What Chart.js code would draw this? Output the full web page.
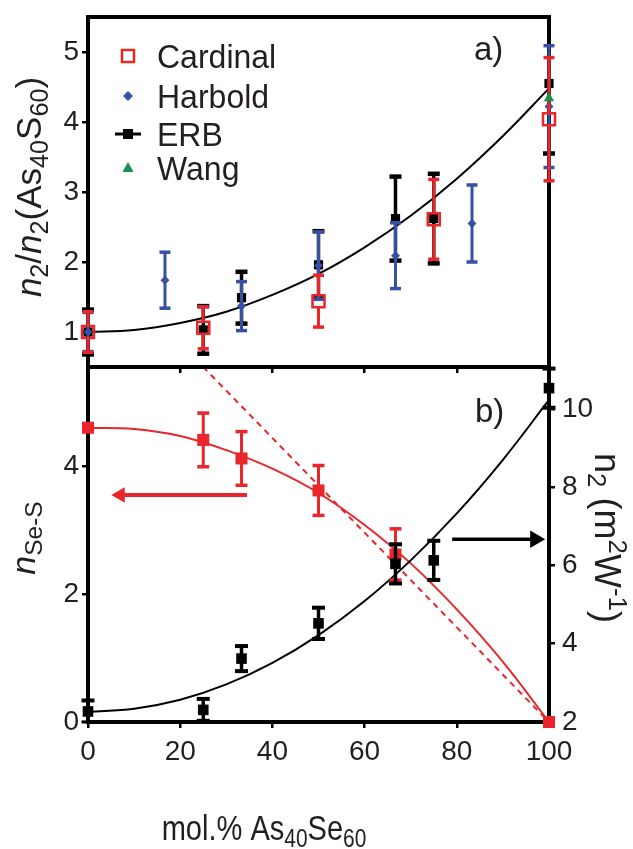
<!DOCTYPE html>
<html>
<head>
<meta charset="utf-8">
<script src="https://cdn.jsdelivr.net/npm/chart.js@4.4.1/dist/chart.umd.min.js"></script>
<style>
  html, body { margin: 0; padding: 0; background: #fff; }
  #wrap { position: relative; width: 633px; height: 849px; }
  #wrap canvas { position: absolute; left: 0; top: 0; }
</style>
</head>
<body>
<div id="wrap">
  <canvas id="chartB" width="633" height="849"></canvas>
  <canvas id="chartA" width="633" height="849"></canvas>
</div>
<script>
// ---- tick values ----
const xTicks = [0, 20, 40, 60, 80, 100];
const yATicks = [1, 2, 3, 4, 5];
const yLeftTicks = [0, 2, 4];
const yRightTicks = [2, 4, 6, 8, 10];

// ---- panel a) n2 / n2(As40S60) ----
const cardinalX = [0, 25, 50, 75, 100];
const cardinalY = [1.00, 1.06, 1.44, 2.61, 4.04];
const cardinalErr = [0.29, 0.30, 0.37, 0.57, 0.88];

const harboldX = [0, 16.7, 33.3, 50, 66.7, 83.3, 100];
const harboldY = [1.00, 1.74, 1.37, 1.95, 2.09, 2.55, 4.22];
const harboldErr = [0.28, 0.40, 0.35, 0.48, 0.47, 0.55, 0.87];

const erbX = [0, 25, 33.3, 50, 66.7, 75, 100];
const erbY = [1.00, 1.03, 1.49, 1.96, 2.62, 2.62, 4.55];
const erbErr = [0.32, 0.34, 0.37, 0.48, 0.60, 0.64, 1.00];

const wangX = [100];
const wangY = [4.34];

const fitX = [0, 10, 20, 30, 40, 50, 60, 70, 80, 90, 100];
const fitAY = [1.00, 1.03, 1.13, 1.29, 1.53, 1.83, 2.21, 2.66, 3.19, 3.80, 4.48];

// ---- panel b) n_Se-S (left) and n2 (right) ----
const nSeSX = [0, 25, 33.3, 50, 66.7, 100];
const nSeSY = [4.60, 4.41, 4.12, 3.62, 2.62, 0.00];
const nSeSErr = [0, 0.42, 0.42, 0.39, 0.40, 0];
const fitSeSY = [4.60, 4.58, 4.47, 4.25, 3.96, 3.58, 3.08, 2.48, 1.76, 0.94, 0.00];
const randomX = [0, 100];
const randomY = [7.40, 0.00];

const n2X = [0, 25, 33.3, 50, 66.7, 75, 100];
const n2Y = [2.27, 2.31, 3.62, 4.52, 6.04, 6.13, 10.53];
const n2Err = [0.28, 0.28, 0.32, 0.40, 0.50, 0.50, 0.50];
const fitN2Y = [2.26, 2.34, 2.57, 2.96, 3.51, 4.22, 5.09, 6.13, 7.33, 8.70, 10.23];

// arrows telling which axis a curve belongs to
const arrowLeftX = [34.5, 7.0];
const arrowLeftY = [3.55, 3.55];
const arrowRightX = [79, 97];
const arrowRightY = [6.67, 6.67];

const FONT = "'Liberation Sans', Arial, Helvetica, sans-serif";
const INK = '#231f20';
const RED = '#e8262b';
const BLUE = '#3651a3';
const GREEN = '#16924a';

function pts(xs, ys) {
  return xs.map((x, i) => ({ x: x, y: ys[i] }));
}

function fixedTicks(values) {
  return scale => { scale.ticks = values.map(v => ({ value: v })); };
}

const tickFont = { family: FONT, size: 28, lineHeight: 1 };

function axisGrid() {
  return { drawOnChartArea: false, drawTicks: true, tickLength: 6, lineWidth: 2.5, color: '#000' };
}

// text with italic / sub / superscript pieces, drawn from a baseline point
function richText(ctx, parts, x, y, size, angle, sx) {
  ctx.save();
  ctx.translate(x, y);
  ctx.rotate(angle || 0);
  ctx.scale(sx || 1, 1);
  ctx.fillStyle = INK;
  ctx.textBaseline = 'alphabetic';
  const fontOf = p => (p.i ? 'italic ' : '') + (p.s ? size * 0.72 : size) + 'px ' + FONT;
  let w = 0;
  parts.forEach(p => {
    ctx.font = fontOf(p);
    p.w = ctx.measureText(p.t).width;
    w += p.w;
  });
  let cx = -w / 2;
  parts.forEach(p => {
    ctx.font = fontOf(p);
    const dy = p.s === 'sub' ? size * 0.2 : p.s === 'sup' ? -size * 0.4 : 0;
    ctx.fillText(p.t, cx, dy);
    cx += p.w;
  });
  ctx.restore();
}

// thick frame round the plot area
const frame = {
  id: 'frame',
  beforeDatasetsDraw(chart) {
    const a = chart.chartArea;
    const ctx = chart.ctx;
    ctx.save();
    ctx.strokeStyle = '#000';
    ctx.lineWidth = 4;
    ctx.strokeRect(a.left, a.top, a.right - a.left, a.bottom - a.top);
    ctx.restore();
  }
};

// vertical error bars, drawn just under each dataset's markers
const errorBars = {
  id: 'errorBars',
  beforeDatasetDraw(chart, args) {
    const ds = chart.data.datasets[args.index];
    if (!ds.err) return;
    const xs = chart.scales.x;
    const ys = chart.scales[ds.yAxisID || 'y'];
    const a = chart.chartArea;
    const ctx = chart.ctx;
    const cap = ds.capWidth / 2;
    const th = ds.capThick;
    const gap = ds.errGap || 0;
    ctx.save();
    ctx.beginPath();
    ctx.rect(0, a.top - 1, chart.width, a.bottom - a.top + 2);
    ctx.clip();
    ctx.strokeStyle = ds.borderColor;
    ctx.fillStyle = ds.borderColor;
    ctx.lineWidth = ds.errWidth;
    ds.data.forEach((p, i) => {
      const e = ds.err[i];
      if (!e) return;
      const px = xs.getPixelForValue(p.x);
      const pc = ys.getPixelForValue(p.y);
      const y1 = ys.getPixelForValue(p.y + e);
      const y2 = ys.getPixelForValue(p.y - e);
      ctx.beginPath();
      ctx.moveTo(px, y1);
      ctx.lineTo(px, pc - gap);
      ctx.moveTo(px, pc + gap);
      ctx.lineTo(px, y2);
      ctx.stroke();
      ctx.fillRect(px - cap, y1 - th / 2, cap * 2, th);
      ctx.fillRect(px - cap, y2 - th / 2, cap * 2, th);
    });
    ctx.restore();
  }
};

function legendMarker(ctx, kind, x, y) {
  ctx.save();
  if (kind === 'openSquare') {
    ctx.strokeStyle = RED;
    ctx.lineWidth = 2.5;
    ctx.strokeRect(x - 6, y - 6, 12, 12);
  } else if (kind === 'diamond') {
    ctx.fillStyle = BLUE;
    ctx.beginPath();
    ctx.moveTo(x, y - 5); ctx.lineTo(x + 5, y); ctx.lineTo(x, y + 5); ctx.lineTo(x - 5, y);
    ctx.closePath();
    ctx.fill();
  } else if (kind === 'lineSquare') {
    ctx.strokeStyle = '#000';
    ctx.lineWidth = 3;
    ctx.beginPath();
    ctx.moveTo(x - 13, y); ctx.lineTo(x + 13, y);
    ctx.stroke();
    ctx.fillStyle = '#000';
    ctx.fillRect(x - 5, y - 5, 10, 10);
  } else if (kind === 'triangle') {
    ctx.fillStyle = GREEN;
    ctx.beginPath();
    ctx.moveTo(x, y - 6); ctx.lineTo(x + 5.5, y + 4); ctx.lineTo(x - 5.5, y + 4);
    ctx.closePath();
    ctx.fill();
  }
  ctx.restore();
}

const legendRows = [
  { label: 'Cardinal', kind: 'openSquare', y: 56 },
  { label: 'Harbold', kind: 'diamond', y: 96 },
  { label: 'ERB', kind: 'lineSquare', y: 134 },
  { label: 'Wang', kind: 'triangle', y: 168 }
];

const textsA = {
  id: 'textsA',
  afterDraw(chart) {
    const ctx = chart.ctx;
    legendRows.forEach(r => {
      legendMarker(ctx, r.kind, 128, r.y);
      ctx.save();
      ctx.translate(157, r.y + 12);
      ctx.scale(0.97, 1);
      ctx.font = '33px ' + FONT;
      ctx.fillStyle = INK;
      ctx.fillText(r.label, 0, 0);
      ctx.restore();
    });
    ctx.save();
    ctx.font = '33px ' + FONT;
    ctx.fillStyle = INK;
    ctx.fillText('a)', 474, 60);
    ctx.restore();
    richText(ctx, [
      { t: 'n', i: 1 }, { t: '2', s: 'sub' }, { t: '/' },
      { t: 'n', i: 1 }, { t: '2', s: 'sub' }, { t: '(As' },
      { t: '40', s: 'sub' }, { t: 'S' }, { t: '60', s: 'sub' }, { t: ')' }
    ], 41, 187, 35, -Math.PI / 2, 1);
  }
};

const textsB = {
  id: 'textsB',
  afterDraw(chart) {
    const ctx = chart.ctx;
    ctx.save();
    ctx.font = '33px ' + FONT;
    ctx.fillStyle = INK;
    ctx.fillText('b)', 475, 422);
    ctx.restore();
    richText(ctx, [
      { t: 'mol.% As' }, { t: '40', s: 'sub' }, { t: 'Se' }, { t: '60', s: 'sub' }
    ], 264, 840, 35, 0, 0.83);
    richText(ctx, [
      { t: 'n', i: 1 }, { t: 'Se-S', s: 'sub' }
    ], 35, 538, 34, -Math.PI / 2, 1);
    richText(ctx, [
      { t: 'n' }, { t: '2', s: 'sub' }, { t: ' (m' }, { t: '2', s: 'sup' },
      { t: 'W' }, { t: '-1', s: 'sup' }, { t: ')' }
    ], 595, 538, 36, Math.PI / 2, 1);
  }
};

const common = {
  responsive: false,
  animation: false,
  events: [],
  plugins: { legend: { display: false }, tooltip: { enabled: false } }
};

// ---- top panel ----
new Chart(document.getElementById('chartA'), {
  type: 'scatter',
  data: {
    datasets: [
      { label: 'Wang', data: pts(wangX, wangY), pointStyle: 'triangle', pointRadius: 6,
        backgroundColor: GREEN, borderColor: GREEN, borderWidth: 0, clip: false },
      { label: 'Cardinal', data: pts(cardinalX, cardinalY), err: cardinalErr,
        errWidth: 3, capWidth: 11, capThick: 3.5, errGap: 6,
        pointStyle: 'rect', pointRadius: 8.5, backgroundColor: 'rgba(0,0,0,0)',
        borderColor: RED, borderWidth: 2.5, clip: false },
      { label: 'Harbold', data: pts(harboldX, harboldY), err: harboldErr,
        errWidth: 3, capWidth: 11, capThick: 3.5,
        pointStyle: 'rectRot', pointRadius: 4.5, backgroundColor: BLUE,
        borderColor: BLUE, borderWidth: 0, clip: false },
      { label: 'ERB', data: pts(erbX, erbY), err: erbErr,
        errWidth: 3.5, capWidth: 12, capThick: 4.5,
        pointStyle: 'rect', pointRadius: 6.5, backgroundColor: '#000',
        borderColor: '#000', borderWidth: 0, clip: false },
      { label: 'fit', data: pts(fitX, fitAY), showLine: true, pointRadius: 0,
        borderColor: '#000', borderWidth: 2, tension: 0.4 }
    ]
  },
  options: Object.assign({}, common, {
    layout: { padding: { left: 0, right: 84, top: 15, bottom: 482 } },
    scales: {
      x: {
        type: 'linear', min: 0, max: 100,
        afterBuildTicks: fixedTicks(xTicks),
        ticks: { display: false },
        grid: axisGrid(),
        border: { display: false },
        afterFit: s => { s.height = 0; }
      },
      y: {
        type: 'linear', min: 0.5, max: 5.5,
        afterBuildTicks: fixedTicks(yATicks),
        ticks: { font: tickFont, color: INK, padding: 3 },
        grid: axisGrid(),
        border: { display: false },
        afterFit: s => { s.width = 88; }
      }
    }
  }),
  plugins: [frame, errorBars, textsA]
});

// ---- bottom panel ----
new Chart(document.getElementById('chartB'), {
  type: 'scatter',
  data: {
    datasets: [
      { label: 'n2', data: pts(n2X, n2Y), yAxisID: 'yR', err: n2Err,
        errWidth: 3.5, capWidth: 13, capThick: 4,
        pointStyle: 'rect', pointRadius: 7.5, backgroundColor: '#000',
        borderColor: '#000', borderWidth: 0, clip: false },
      { label: 'nSeS', data: pts(nSeSX, nSeSY), yAxisID: 'yL', err: nSeSErr,
        errWidth: 3, capWidth: 12, capThick: 3.5,
        pointStyle: 'rect', pointRadius: 8.5, backgroundColor: RED,
        borderColor: RED, borderWidth: 0, clip: false },
      { label: 'arrowL', data: pts(arrowLeftX, arrowLeftY), yAxisID: 'yL', showLine: true,
        borderColor: RED, backgroundColor: RED, borderWidth: 4,
        pointStyle: 'triangle', pointRadius: [0, 9], pointRotation: [0, 270], pointBorderWidth: 0 },
      { label: 'arrowR', data: pts(arrowRightX, arrowRightY), yAxisID: 'yR', showLine: true,
        borderColor: '#000', backgroundColor: '#000', borderWidth: 3.5,
        pointStyle: 'triangle', pointRadius: [0, 10], pointRotation: [0, 90], pointBorderWidth: 0 },
      { label: 'fitN2', data: pts(fitX, fitN2Y), yAxisID: 'yR', showLine: true, pointRadius: 0,
        borderColor: '#000', borderWidth: 2, tension: 0.4 },
      { label: 'fitSeS', data: pts(fitX, fitSeSY), yAxisID: 'yL', showLine: true, pointRadius: 0,
        borderColor: RED, borderWidth: 2, tension: 0.4 },
      { label: 'random', data: pts(randomX, randomY), yAxisID: 'yL', showLine: true, pointRadius: 0,
        borderColor: RED, borderWidth: 2, borderDash: [6, 5] }
    ]
  },
  options: Object.assign({}, common, {
    layout: { padding: { left: 0, right: 0, top: 367, bottom: 0 } },
    scales: {
      x: {
        type: 'linear', min: 0, max: 100,
        afterBuildTicks: fixedTicks(xTicks),
        ticks: { font: tickFont, color: INK, padding: 10, maxRotation: 0 },
        grid: axisGrid(),
        border: { display: false },
        afterFit: s => { s.height = 127; }
      },
      yL: {
        type: 'linear', position: 'left', min: 0, max: 5.55,
        afterBuildTicks: fixedTicks(yLeftTicks),
        ticks: { font: tickFont, color: INK, padding: 3 },
        grid: axisGrid(),
        border: { display: false },
        afterFit: s => { s.width = 88; }
      },
      yR: {
        type: 'linear', position: 'right', min: 2, max: 11.07,
        afterBuildTicks: fixedTicks(yRightTicks),
        ticks: { font: tickFont, color: INK, padding: 7 },
        grid: axisGrid(),
        border: { display: false },
        afterFit: s => { s.width = 84; }
      }
    }
  }),
  plugins: [frame, errorBars, textsB]
});
</script>
</body>
</html>
